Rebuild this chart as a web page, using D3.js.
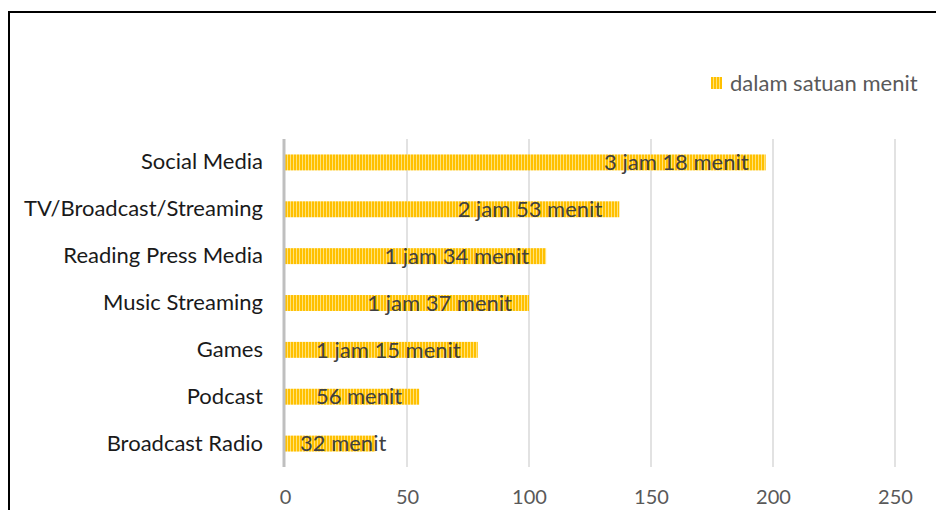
<!DOCTYPE html>
<html><head><meta charset="utf-8">
<script src="https://cdn.jsdelivr.net/npm/d3@7"></script>
<style>body{margin:0;background:#fff}svg{display:block}</style>
</head><body>
<script>
const categories = ["Social Media","TV/Broadcast/Streaming","Reading Press Media","Music Streaming","Games","Podcast","Broadcast Radio"];
const values = [197, 137, 107, 100, 79, 55, 37];
const dataLabels = ["3 jam 18 menit","2 jam 53 menit","1 jam 34 menit","1 jam 37 menit","1 jam 15 menit","56 menit","32 menit"];
const tickValues = [0, 50, 100, 150, 200, 250];
const legendLabel = "dalam satuan menit";

const W = 936, H = 510;
const FONT = "Lato, 'Open Sans', sans-serif";
const svg = d3.select("body").append("svg").attr("width", W).attr("height", H);

const defs = svg.append("defs");
const pat = defs.append("pattern").attr("id","stripes").attr("patternUnits","userSpaceOnUse")
  .attr("width",3).attr("height",10);
pat.append("rect").attr("width",3).attr("height",10).attr("fill","#ffc000");
pat.append("rect").attr("x",2).attr("width",1).attr("height",10).attr("fill","#ffe27a");

// frame
svg.append("rect").attr("x",9).attr("y",12).attr("width",W+20).attr("height",H+20)
  .attr("fill","none").attr("stroke","#000").attr("stroke-width",2);

const x = d3.scaleLinear().domain([0,250]).range([285,895]);
const y = d3.scaleBand().domain(categories).range([139,467]).paddingInner(0.66).paddingOuter(0.33);

// gridlines
svg.append("g").selectAll("line").data(tickValues.filter(d=>d>0)).join("line")
  .attr("x1",d=>x(d)).attr("x2",d=>x(d)).attr("y1",139).attr("y2",467)
  .attr("stroke","#d9d9d9").attr("stroke-width",1.5);

// bars
svg.append("g").selectAll("rect").data(categories).join("rect")
  .attr("x",x(0)).attr("y",d=>y(d)).attr("height",y.bandwidth())
  .attr("width",(d,i)=>x(values[i])-x(0)).attr("fill","url(#stripes)");

// axis line at 0
svg.append("line").attr("x1",x(0)-1).attr("x2",x(0)-1).attr("y1",139).attr("y2",467)
  .attr("stroke","#bfbfbf").attr("stroke-width",3);

// x axis
const xAxis = d3.axisBottom(x).tickValues(tickValues).tickSize(0).tickPadding(0);
const gx = svg.append("g").attr("transform","translate(0,485)").call(xAxis);
gx.select(".domain").remove();
gx.selectAll("text").attr("font-family",FONT).attr("font-size",20).attr("fill","#595959").attr("dy","0.95em");

// y axis
const yAxis = d3.axisLeft(y).tickSize(0).tickPadding(22);
const gy = svg.append("g").attr("transform",`translate(${x(0)},0)`).call(yAxis);
gy.select(".domain").remove();
gy.selectAll("text").attr("font-family",FONT).attr("font-size",22).attr("fill","#1a1a1a");

// data labels
const lbl = svg.append("g").selectAll("text").data(categories).join("text")
  .attr("font-family",FONT).attr("font-size",22).attr("fill","#404040")
  .attr("y",d=>y(d)+y.bandwidth()/2).attr("dy","0.35em")
  .text((d,i)=>dataLabels[i]);
lbl.each(function(d,i){
  const w = this.getComputedTextLength();
  const start = Math.max(x(values[i]) - 17 - w, x(0) + 15);
  d3.select(this).attr("x", start);
});

// legend
svg.append("rect").attr("x",711).attr("y",77).attr("width",11).attr("height",12).attr("fill","url(#stripes)");
svg.append("text").attr("x",730).attr("y",83).attr("dy","0.35em")
  .attr("font-family",FONT).attr("font-size",22).attr("fill","#595959").text(legendLabel);
</script>
</body></html>
